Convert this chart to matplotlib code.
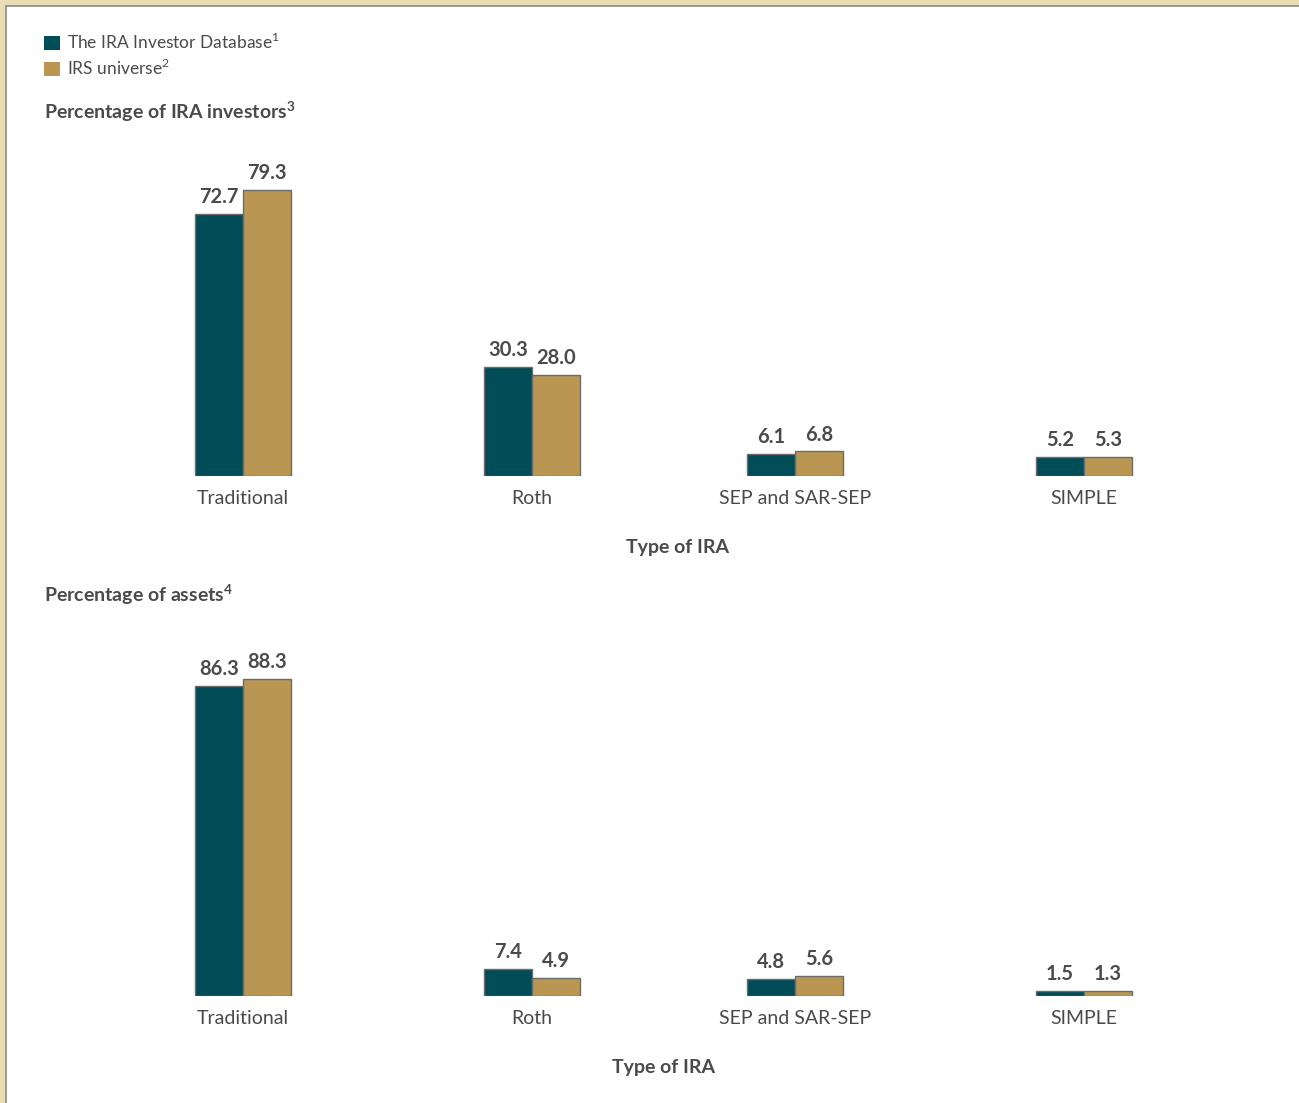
import matplotlib
matplotlib.use("Agg")
import matplotlib.pyplot as plt
from matplotlib.patches import Rectangle

plt.rcParams['font.family'] = ['Lato', 'DejaVu Sans']
plt.rcParams['mathtext.fontset'] = 'custom'
plt.rcParams['mathtext.rm'] = 'Lato'
plt.rcParams['mathtext.bf'] = 'Lato:bold'

categories = ["Traditional", "Roth", "SEP and SAR-SEP", "SIMPLE"]
series_names = [r"The IRA Investor Database$^{\mathrm{1}}$", r"IRS universe$^{\mathrm{2}}$"]
investors_db = [72.7, 30.3, 6.1, 5.2]
investors_irs = [79.3, 28.0, 6.8, 5.3]
assets_db = [86.3, 7.4, 4.8, 1.5]
assets_irs = [88.3, 4.9, 5.6, 1.3]
title_top = r"Percentage of IRA investors$^{\mathbf{3}}$"
title_bottom = r"Percentage of assets$^{\mathbf{4}}$"
xlabel = "Type of IRA"

# layout (pixels)
W, H = 1299, 1103
group_pos = [243, 532, 795, 1084]
bar_w = 48
TEAL = "#004D57"
GOLD = "#B99651"
TXT = "#4a4a4a"

fig = plt.figure(figsize=(W / 100, H / 100), dpi=100)
fig.patch.set_facecolor("white")

# frame border
fig.patches.append(Rectangle((0, (H - 6) / H), 1, 6 / H, transform=fig.transFigure,
                             facecolor="#E9DDB3", edgecolor="none", zorder=0))
fig.patches.append(Rectangle((0, 0), 6 / W, 1, transform=fig.transFigure,
                             facecolor="#E9DDB3", edgecolor="none", zorder=0))
fig.add_artist(plt.Line2D([6 / W, 1], [(H - 6) / H, (H - 6) / H], transform=fig.transFigure,
                          color="#8c8c8c", lw=1.2))
fig.add_artist(plt.Line2D([6 / W, 6 / W], [0, (H - 6) / H], transform=fig.transFigure,
                          color="#8c8c8c", lw=1.2))


def make_axes(base_y, scale, ymax):
    height_px = ymax * scale
    return fig.add_axes([0, (H - base_y) / H, 1, height_px / H])


def draw(ax, db, irs, ymax):
    left = [p - bar_w / 2 for p in group_pos]
    right = [p + bar_w / 2 for p in group_pos]
    b1 = ax.bar(left, db, width=bar_w, color=TEAL, edgecolor="#6b6b6b", linewidth=1,
                label=series_names[0])
    b2 = ax.bar(right, irs, width=bar_w, color=GOLD, edgecolor="#6b6b6b", linewidth=1,
                label=series_names[1])
    for bars in (b1, b2):
        ax.bar_label(bars, fmt="%.1f", padding=5, fontsize=14.5, fontweight="bold", color=TXT)
    ax.set_xlim(0, W)
    ax.set_ylim(0, ymax)
    ax.set_xticks(group_pos)
    ax.set_xticklabels(categories, fontsize=14, color=TXT)
    ax.tick_params(axis="x", length=0, pad=10)
    ax.set_yticks([])
    for s in ax.spines.values():
        s.set_visible(False)
    ax.patch.set_alpha(0)
    return b1, b2


ax1 = make_axes(476, 3.61, 90)
b1, b2 = draw(ax1, investors_db, investors_irs, 90)
ax2 = make_axes(996, 3.59, 95)
draw(ax2, assets_db, assets_irs, 95)

fig.text(677 / W, 1 - 548 / H, xlabel, ha="center", va="center", fontsize=14,
         fontweight="bold", color=TXT)
fig.text(664 / W, 1 - 1067 / H, xlabel, ha="center", va="center", fontsize=14,
         fontweight="bold", color=TXT)
fig.text(44 / W, 1 - 112 / H, title_top, ha="left", va="center", fontsize=14,
         fontweight="bold", color=TXT)
fig.text(44 / W, 1 - 595 / H, title_bottom, ha="left", va="center", fontsize=14,
         fontweight="bold", color=TXT)

fig.legend(handles=[b1, b2], labels=series_names, loc="upper left",
           bbox_to_anchor=(44 / W, 1 - 32 / H), frameon=False, fontsize=12.5,
           handlelength=0.9, handleheight=0.9, handletextpad=0.45,
           labelspacing=0.35, labelcolor=TXT, borderpad=0, borderaxespad=0)
for h in fig.legends[0].legend_handles:
    h.set_edgecolor("none")

fig.savefig("out.png", dpi=100, facecolor="white")
